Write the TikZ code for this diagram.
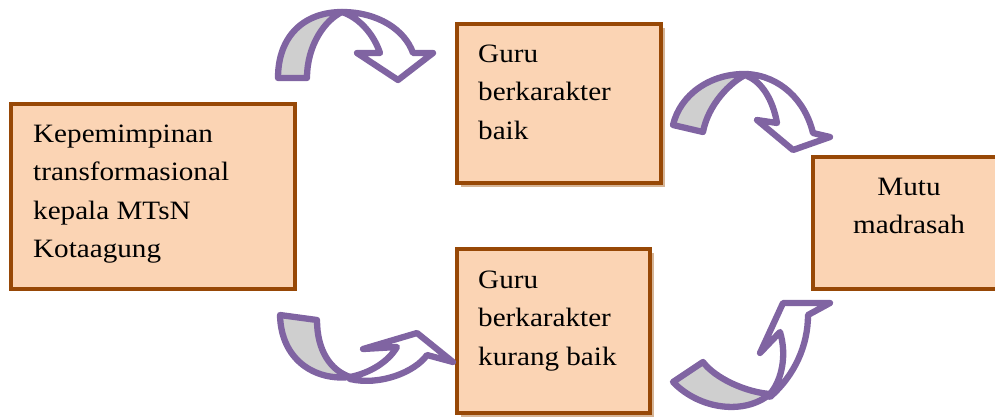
\documentclass[tikz,border=0pt]{standalone}
\usepackage{fontspec}
\setmainfont[FakeStretch=1.1]{Liberation Serif}
\usetikzlibrary{shadows}
\definecolor{boxfill}{HTML}{FBD4B4}
\definecolor{boxline}{HTML}{974806}
\definecolor{shadowc}{HTML}{D6B596}
\definecolor{arrline}{HTML}{8064A2}
\definecolor{arrgray}{HTML}{CFCFCF}
\begin{document}
\begin{tikzpicture}[x=1pt,y=-1pt,
  box/.style={draw=boxline,fill=boxfill,line width=3.5pt,inner sep=0pt},
  shbox/.style={box,drop shadow={shadow xshift=3.5pt,shadow yshift=-3.5pt,fill=shadowc,opacity=1}},
  txt/.style={inner sep=0pt,font=\fontsize{26.5}{38.5}\selectfont},
  back/.style={draw=arrline,fill=arrgray,line width=6.3pt,line join=round},
  front/.style={draw=arrline,fill=white,line width=6.3pt,line join=round}]
\useasboundingbox (0,0) rectangle (995,418);
% boxes
\node[box,minimum width=284pt,minimum height=185pt] (A) at (153,196.5) {};
\node[shbox,minimum width=204pt,minimum height=159pt] (B) at (559,103.5) {};
\node[shbox,minimum width=193pt,minimum height=164pt] (C) at (553.5,331) {};
\node[box,minimum width=192pt,minimum height=132pt] (D) at (909,223) {};
% texts (base anchor = baseline of last line)
\node[txt,anchor=base west,align=left] (tA) at (33,257.5) {Kepemimpinan\\transformasional\\kepala MTsN\\Kotaagung};
\node[txt,anchor=base west,align=left] (tB) at (478,139) {Guru\\berkarakter\\baik};
\node[txt,anchor=base west,align=left] (tC) at (478,365) {Guru\\berkarakter\\kurang baik};
\node[txt,anchor=base,align=center] (tD) at (909,233.5) {Mutu\\madrasah};
% arrow 1 (top left)
\draw[back] (278,78) .. controls (278,35) and (305,12) .. (342,12) .. controls (325,20) and (307,45) .. (307,78) -- cycle;
\draw[front] (342,12) .. controls (378,12) and (405,30) .. (413,53) -- (433,53) -- (398,80) -- (357,53) -- (380,53) .. controls (374,35) and (360,18) .. (342,12) -- cycle;
% arrow 2 (top right)
\draw[back] (673,125) .. controls (680,95) and (710,73) .. (747,74) .. controls (730,82) and (708,105) .. (703,132) -- cycle;
\draw[front] (747,74) .. controls (780,76) and (805,100) .. (813,133) -- (830,137) -- (793,150) -- (757,120) -- (777,123) .. controls (773,100) and (762,82) .. (747,76) -- cycle;
% arrow 3 (bottom left)
\draw[back] (280,315) -- (317,320) .. controls (317,350) and (330,370) .. (350,377) .. controls (315,381) and (281,360) .. (280,315) -- cycle;
\draw[front] (350,379) .. controls (380,386) and (415,372) .. (427,355) -- (453,362) -- (417,333) -- (363,349) -- (397,347) .. controls (388,362) and (370,373) .. (350,377) -- cycle;
% arrow 4 (bottom right)
\draw[back] (673,382) -- (703,362) .. controls (715,378) and (745,392) .. (770,394) .. controls (745,415) and (700,410) .. (673,382) -- cycle;
\draw[front] (770,397) .. controls (795,375) and (808,345) .. (808,315) -- (830,303) -- (783,303) -- (760,353) -- (780,332) .. controls (787,355) and (782,380) .. (770,394) -- cycle;
\end{tikzpicture}
\end{document}
